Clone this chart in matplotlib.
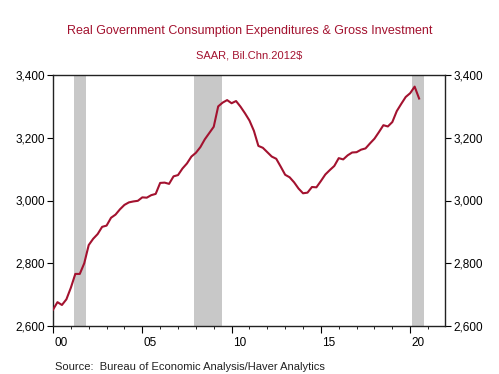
import matplotlib.pyplot as plt
import matplotlib.transforms as mtransforms
from matplotlib.ticker import FixedLocator, MultipleLocator, FuncFormatter

plt.rcParams['font.family'] = ['Liberation Sans', 'DejaVu Sans']

# Quarterly data 2000Q1 - 2020Q3, Bil.Chn.2012$
gasto = [
    2652, 2676, 2667, 2685,   # 2000
    2722, 2766, 2766, 2800,   # 2001
    2858, 2878, 2893, 2916,   # 2002
    2920, 2945, 2955, 2972,   # 2003
    2986, 2994, 2997, 2999,   # 2004
    3010, 3009, 3017, 3021,   # 2005
    3056, 3057, 3053, 3077,   # 2006
    3081, 3102, 3118, 3140,   # 2007
    3152, 3170, 3195, 3215,   # 2008
    3235, 3300, 3312, 3320,   # 2009
    3310, 3317, 3299, 3278,   # 2010
    3255, 3222, 3174, 3168,   # 2011
    3154, 3140, 3133, 3108,   # 2012
    3082, 3074, 3058, 3038,   # 2013
    3023, 3025, 3043, 3042,   # 2014
    3062, 3083, 3097, 3110,   # 2015
    3135, 3131, 3144, 3153,   # 2016
    3154, 3162, 3166, 3182,   # 2017
    3197, 3218, 3240, 3236,   # 2018
    3250, 3285, 3308, 3330,   # 2019
    3342, 3363, 3325,         # 2020
]
fechas = [2000 + i / 4 for i in range(len(gasto))]

# Recesiones (inicio, fin) en años decimales
recesiones = [(2001.17, 2001.83), (2007.92, 2009.46), (2020.1, 2020.75)]

anios_ticks = [2000, 2005, 2010, 2015, 2020]
etiquetas_x = ["00", "05", "10", "15", "20"]

rojo = "#A3122F"

fig = plt.figure(figsize=(4.99, 3.74), dpi=100)
ax = fig.add_axes([53 / 499, 48 / 374, 392 / 499, 251 / 374])

for ini, fin in recesiones:
    ax.axvspan(ini, fin, color="#C8C8C8", lw=0, zorder=0)

ax.plot(fechas, gasto, color=rojo, lw=1.5, zorder=3)

ax.set_xlim(2000, 2021.95)
ax.set_ylim(2600, 3400)

ax.xaxis.set_major_locator(FixedLocator(anios_ticks))
ax.set_xticklabels(etiquetas_x)
ax.xaxis.set_minor_locator(MultipleLocator(1))
ax.yaxis.set_major_locator(MultipleLocator(200))
ax.yaxis.set_major_formatter(FuncFormatter(lambda v, p: f"{int(v):,}"))

ax.tick_params(axis="x", which="major", length=5, direction="out", labelsize=8.5, pad=3)
ax.tick_params(axis="x", which="minor", length=2.5, direction="out")
ax.tick_params(axis="y", which="major", length=4, direction="out", labelsize=8.5,
               left=True, right=True, labelleft=True, labelright=True, pad=2)

offset = mtransforms.ScaledTranslation(8 / 100, 0, fig.dpi_scale_trans)
for lbl in ax.get_xticklabels():
    lbl.set_transform(lbl.get_transform() + offset)

for s in ax.spines.values():
    s.set_color("#222222")
    s.set_linewidth(1.0)

fig.text(0.5, 1 - 31 / 374, "Real Government Consumption Expenditures & Gross Investment",
         ha="center", va="center", color=rojo, fontsize=9.0)
fig.text(0.5, 1 - 56 / 374, "SAAR, Bil.Chn.2012$", ha="center", va="center",
         color=rojo, fontsize=8)
fig.text(55 / 499, 1 - 367 / 374, "Source:  Bureau of Economic Analysis/Haver Analytics",
         ha="left", va="center", color="#222222", fontsize=8)

fig.savefig("out.png", dpi=100)
